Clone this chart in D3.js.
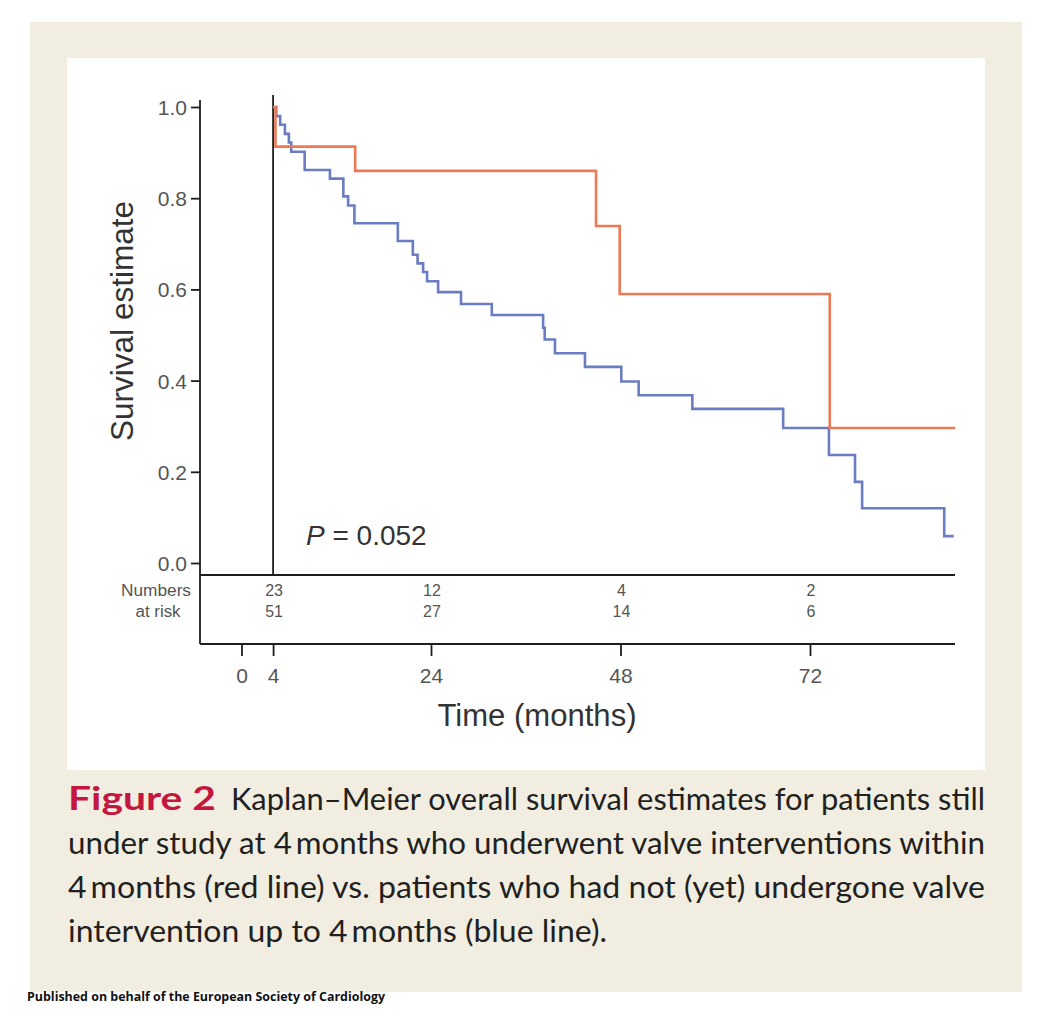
<!DOCTYPE html>
<html>
<head>
<meta charset="utf-8">
<script src="https://cdn.jsdelivr.net/npm/d3@7"></script>
<style>
  html, body { margin: 0; padding: 0; background: #ffffff; }
  svg { display: block; }
</style>
</head>
<body>
<svg id="chart" width="1056" height="1016"></svg>
<script>
// ---------------- data ----------------
const redTimes  = [4, 4.3, 14.4, 44.9, 47.9, 74.5, 90.4];
const redSurv   = [1.0, 0.913, 0.860, 0.739, 0.590, 0.296, 0.296];

const blueTimes = [4, 4.4, 4.9, 5.5, 6.0, 6.3, 8.0, 11.2, 12.9, 13.5, 14.3, 19.8, 21.7, 22.3, 23.0, 23.5,
                   24.9, 27.8, 31.7, 38.2, 38.4, 39.7, 43.5, 48.1, 50.3, 57.1, 68.6, 74.4, 77.7, 78.6, 89.0, 90.2];
const blueSurv  = [1.0, 0.980, 0.961, 0.941, 0.922, 0.902, 0.862, 0.843, 0.804, 0.784, 0.745, 0.706, 0.676, 0.657, 0.638, 0.618,
                   0.594, 0.568, 0.544, 0.516, 0.490, 0.460, 0.430, 0.398, 0.368, 0.338, 0.296, 0.237, 0.178, 0.120, 0.059, 0.059];

const riskTimes = [4, 24, 48, 72];
const riskRed   = [23, 12, 4, 2];
const riskBlue  = [51, 27, 14, 6];

const yTicks = [0, 0.2, 0.4, 0.6, 0.8, 1.0];
const xTicks = [0, 4, 24, 48, 72];
const landmark = 4;

const captionLines = [
  "Kaplan\u2013Meier overall survival estimates for patients still",
  "under study at 4\u2009months who underwent valve interventions within",
  "4\u2009months (red line) vs. patients who had not (yet) undergone valve",
  "intervention up to 4\u2009months (blue line)."
];

// ---------------- drawing ----------------
const svg = d3.select("#chart");
const chartFont = "'Liberation Sans', Arial, sans-serif";
const capFont = "Lato, 'Open Sans', sans-serif";

// panels
svg.append("rect").attr("x", 30).attr("y", 22).attr("width", 992).attr("height", 970).attr("fill", "#f1eee1");
svg.append("rect").attr("x", 67).attr("y", 58).attr("width", 918).attr("height", 712).attr("fill", "#ffffff");

const x = d3.scaleLinear().domain([0, 72]).range([241.5, 810]);
const y = d3.scaleLinear().domain([0, 1]).range([563, 107]);

const axisColor = "#1e1e1e";
const leftX = 200, rightX = 955, riskTop = 575, bottomY = 644;

// y axis
const yAxis = d3.axisLeft(y).tickValues(yTicks).tickFormat(d3.format(".1f")).tickSize(9).tickPadding(4);
const gy = svg.append("g").attr("transform", `translate(${leftX},0)`).call(yAxis);
gy.select(".domain").remove();
gy.selectAll(".tick line").attr("stroke", axisColor).attr("stroke-width", 1.8);
gy.selectAll(".tick text").attr("font-family", chartFont).attr("font-size", 21).attr("fill", "#555")
  .attr("dy", "0.36em");
svg.append("line").attr("x1", leftX).attr("x2", leftX).attr("y1", 100).attr("y2", bottomY)
  .attr("stroke", axisColor).attr("stroke-width", 1.8);

// horizontal lines
svg.append("line").attr("x1", leftX).attr("x2", rightX).attr("y1", riskTop).attr("y2", riskTop)
  .attr("stroke", axisColor).attr("stroke-width", 1.8);

// x axis
const xAxis = d3.axisBottom(x).tickValues(xTicks).tickSize(12).tickPadding(12).tickFormat(d3.format("d"));
const gx = svg.append("g").attr("transform", `translate(0,${bottomY})`).call(xAxis);
gx.select(".domain").remove();
gx.selectAll(".tick line").attr("stroke", axisColor).attr("stroke-width", 1.8);
gx.selectAll(".tick text").attr("font-family", chartFont).attr("font-size", 21).attr("fill", "#555");
svg.append("line").attr("x1", leftX).attr("x2", rightX).attr("y1", bottomY).attr("y2", bottomY)
  .attr("stroke", axisColor).attr("stroke-width", 1.8);

// landmark vertical line
svg.append("line").attr("x1", x(landmark)).attr("x2", x(landmark)).attr("y1", 95).attr("y2", riskTop)
  .attr("stroke", axisColor).attr("stroke-width", 1.8);

// curves
const line = d3.line().x(d => x(d[0])).y(d => y(d[1])).curve(d3.curveStepAfter);
const blueData = blueTimes.map((t, i) => [t, blueSurv[i]]);
const redData = redTimes.map((t, i) => [t, redSurv[i]]);
svg.append("path").attr("d", line(blueData)).attr("fill", "none").attr("stroke", "#6a7cc2").attr("stroke-width", 2.6);
svg.append("path").attr("d", line(redData)).attr("fill", "none").attr("stroke", "#ee7a55").attr("stroke-width", 2.6);

// axis titles
svg.append("text").attr("transform", "translate(133,321) rotate(-90)").attr("text-anchor", "middle")
  .attr("font-family", chartFont).attr("font-size", 31).attr("fill", "#333")
  .attr("textLength", 240).attr("lengthAdjust", "spacingAndGlyphs").text("Survival estimate");
svg.append("text").attr("x", 537).attr("y", 726).attr("text-anchor", "middle")
  .attr("font-family", chartFont).attr("font-size", 31).attr("fill", "#333")
  .attr("textLength", 199).attr("lengthAdjust", "spacingAndGlyphs").text("Time (months)");

// P value
const pt = svg.append("text").attr("x", 306).attr("y", 545).attr("font-family", chartFont)
  .attr("font-size", 28).attr("fill", "#333");
pt.append("tspan").attr("font-style", "italic").text("P");
pt.append("tspan").text(" = 0.052");

// numbers at risk
svg.append("text").attr("x", 156).attr("y", 596).attr("text-anchor", "middle").attr("font-family", chartFont)
  .attr("font-size", 16).attr("fill", "#555").attr("textLength", 70).attr("lengthAdjust", "spacingAndGlyphs").text("Numbers");
svg.append("text").attr("x", 158).attr("y", 617).attr("text-anchor", "middle").attr("font-family", chartFont)
  .attr("font-size", 16).attr("fill", "#555").attr("textLength", 45).attr("lengthAdjust", "spacingAndGlyphs").text("at risk");
svg.selectAll(".riskR").data(riskTimes).enter().append("text").attr("class", "riskR")
  .attr("x", d => x(d) + 1).attr("y", 596).attr("text-anchor", "middle").attr("font-family", chartFont)
  .attr("font-size", 16).attr("fill", "#555").text((d, i) => riskRed[i]);
svg.selectAll(".riskB").data(riskTimes).enter().append("text").attr("class", "riskB")
  .attr("x", d => x(d) + 1).attr("y", 617).attr("text-anchor", "middle").attr("font-family", chartFont)
  .attr("font-size", 16).attr("fill", "#555").text((d, i) => riskBlue[i]);

// caption
const capY = [810, 854, 898, 942];
svg.append("text").attr("x", 68).attr("y", capY[0]).attr("font-family", capFont)
  .attr("font-size", 33).attr("font-weight", "bold").attr("fill", "#c4173f")
  .attr("textLength", 148).attr("lengthAdjust", "spacingAndGlyphs").text("Figure 2");
const capLens = [754, 917, 917, 539];
const capX = [231, 68, 68, 68];
captionLines.forEach((s, i) => {
  svg.append("text").attr("x", capX[i]).attr("y", capY[i]).attr("font-family", capFont)
    .attr("font-size", 31).attr("fill", "#231f20")
    .attr("textLength", capLens[i]).attr("lengthAdjust", "spacingAndGlyphs").text(s);
});

// footer
svg.append("text").attr("x", 27).attr("y", 1001).attr("font-family", "'Open Sans', sans-serif")
  .attr("font-size", 12).attr("font-weight", "bold").attr("fill", "#111")
  .attr("textLength", 358).attr("lengthAdjust", "spacingAndGlyphs")
  .text("Published on behalf of the European Society of Cardiology");
</script>
</body>
</html>
